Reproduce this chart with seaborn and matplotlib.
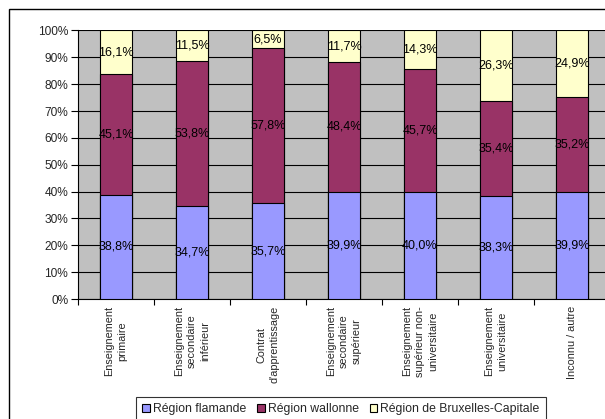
import matplotlib
matplotlib.use("Agg")
import matplotlib.pyplot as plt
import matplotlib.patches as mpatches
import numpy as np
import pandas as pd
import seaborn as sns

# Niveau d'enseignement (catégories de l'axe X)
categories = [
    "Enseignement\nprimaire",
    "Enseignement\nsecondaire\ninférieur",
    "Contrat\nd'apprentissage",
    "Enseignement\nsecondaire\nsupérieur",
    "Enseignement\nsupérieur non-\nuniversitaire",
    "Enseignement\nuniversitaire",
    "Inconnu / autre",
]

# Parts régionales (%)
flamande = [38.8, 34.7, 35.7, 39.9, 40.0, 38.3, 39.9]
wallonne = [45.1, 53.8, 57.8, 48.4, 45.7, 35.4, 35.2]
bruxelles = [16.1, 11.5, 6.5, 11.7, 14.3, 26.3, 24.9]

series_names = ["Région flamande", "Région wallonne", "Région de Bruxelles-Capitale"]
series_colors = ["#9999FF", "#993366", "#FFFFCC"]

df = pd.DataFrame({
    "cat": categories,
    "fl": flamande,
    "wa": wallonne,
    "bx": bruxelles,
})
df["top_fl"] = df["fl"]
df["top_wa"] = (df["fl"] + df["wa"]).round(1)
df["top_bx"] = (df["fl"] + df["wa"] + df["bx"]).round(1)

sns.set_theme(style="white")
plt.rcParams["font.family"] = ["Liberation Sans", "DejaVu Sans"]

fig = plt.figure(figsize=(6.05, 4.19), dpi=100)
fig.patch.set_facecolor("white")

# Cadre du graphique
fig.patches.append(mpatches.Rectangle(
    (9 / 605, -0.1), 1.2, 0.9785 + 0.1, transform=fig.transFigure,
    facecolor="none", edgecolor="black", linewidth=1.0, zorder=0))

ax = fig.add_axes([78 / 605, 1 - 299 / 419, 532 / 605, (299 - 30.5) / 419])
ax.set_facecolor("#C0C0C0")

bar_width = 0.41
edge = dict(edgecolor="black", linewidth=0.8)
# Barres empilées: on dessine le cumul du plus haut au plus bas
sns.barplot(data=df, x="cat", y="top_bx", color=series_colors[2], width=bar_width,
            ax=ax, zorder=3, saturation=1, **edge)
sns.barplot(data=df, x="cat", y="top_wa", color=series_colors[1], width=bar_width,
            ax=ax, zorder=3, saturation=1, **edge)
sns.barplot(data=df, x="cat", y="top_fl", color=series_colors[0], width=bar_width,
            ax=ax, zorder=3, saturation=1, **edge)

# Étiquettes de valeurs au centre des segments
for i in range(len(categories)):
    bottoms = [0, flamande[i], flamande[i] + wallonne[i]]
    vals = [flamande[i], wallonne[i], bruxelles[i]]
    for b, v in zip(bottoms, vals):
        ax.text(i, b + v / 2, f"{v:.1f}%".replace(".", ","), ha="center", va="center",
                fontsize=9.0, color="black", zorder=5)

ax.set_ylim(0, 100)
ax.set_xlim(-0.5, len(categories) - 0.5)
ax.set_yticks(np.arange(0, 101, 10))
ax.set_yticklabels([f"{v}%" for v in range(0, 101, 10)], fontsize=8.6)
ax.yaxis.grid(True, color="black", linewidth=0.8)
ax.set_axisbelow(True)
ax.set_xlabel("")
ax.set_ylabel("")

# Graduations X aux limites des catégories
ax.set_xticks(np.arange(-0.5, len(categories), 1.0))
ax.set_xticklabels([])
ax.set_xticks(np.arange(len(categories)), minor=True)
ax.set_xticklabels(categories, minor=True, rotation=90, fontsize=7.8,
                   ha="center", va="top", multialignment="center", linespacing=1.35)
ax.tick_params(axis="x", which="major", length=4, width=0.8, color="black", direction="out",
               bottom=True)
ax.tick_params(axis="x", which="minor", length=0, pad=5)
ax.tick_params(axis="y", length=5, width=0.8, color="black", direction="out", pad=2, left=True)

for side in ["top", "right"]:
    ax.spines[side].set_visible(False)
ax.spines["left"].set_color("black")
ax.spines["bottom"].set_color("black")
ax.spines["left"].set_linewidth(0.8)
ax.spines["bottom"].set_linewidth(0.8)

handles = [mpatches.Patch(facecolor=c, edgecolor="black", linewidth=0.8, label=n)
           for c, n in zip(series_colors, series_names)]
leg = fig.legend(handles=handles, loc="upper center", bbox_to_anchor=(341 / 605, 1 - 397 / 419),
                 ncol=3, fontsize=8.8, frameon=True, fancybox=False, handlelength=0.58,
                 handleheight=0.58, handletextpad=0.25, columnspacing=0.95,
                 borderpad=0.5, borderaxespad=0)
leg.get_frame().set_edgecolor("black")
leg.get_frame().set_linewidth(0.8)

fig.savefig("out.png", dpi=100)
